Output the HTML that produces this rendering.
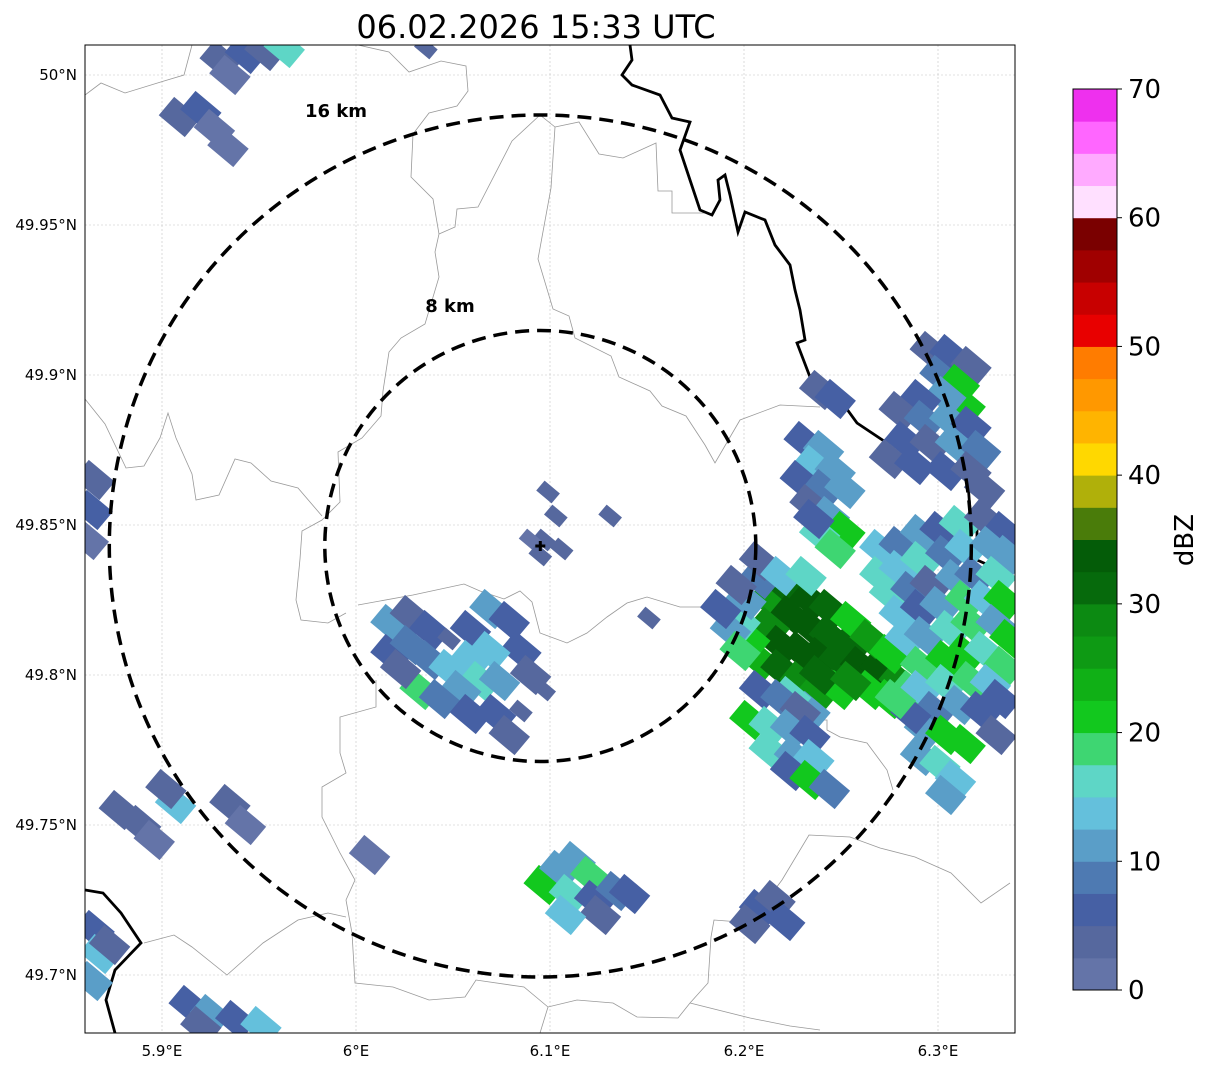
<!DOCTYPE html>
<html><head><meta charset="utf-8"><style>
body{margin:0;background:#fff;width:1207px;height:1069px;overflow:hidden}
svg{display:block}
text{font-family:"DejaVu Sans","Liberation Sans",sans-serif}
</style></head><body>
<svg id="chart" width="1207" height="1069" viewBox="0 0 1207 1069" xmlns="http://www.w3.org/2000/svg">
<defs><clipPath id="mapclip"><rect x="85" y="45" width="930" height="988"/></clipPath></defs>
<text x="536" y="38" font-size="32" text-anchor="middle">06.02.2026 15:33 UTC</text>
<g id="grid"></g>
<g id="borders" clip-path="url(#mapclip)" fill="none"></g>
<g id="cells" clip-path="url(#mapclip)"></g>
<g id="rings" clip-path="url(#mapclip)"></g>
<rect x="85" y="45" width="930" height="988" fill="none" stroke="#000" stroke-width="1"/>
<g id="axes"></g>
<g id="cbar"></g>
</svg>
<script>
const NS='http://www.w3.org/2000/svg';
const latTicks=[50,49.95,49.9,49.85,49.8,49.75,49.7];
const latLabels=['50°N','49.95°N','49.9°N','49.85°N','49.8°N','49.75°N','49.7°N'];
const lonTicks=[5.9,6.0,6.1,6.2,6.3];
const lonLabels=['5.9°E','6°E','6.1°E','6.2°E','6.3°E'];
const radarPos=[6.095,49.843];
const ringKm=[8,16];
const ringLabels=['8 km','16 km'];
const cbTicks=[0,10,20,30,40,50,60,70];
const cbColors=['#6474a8','#56689e','#4660a4','#4e7ab2','#5a9ec8','#64c0dc','#5ed6c6','#3ed672','#12c81e','#10b016','#0e9a14','#0c8a12','#066a0c','#045c08','#4a7c0a','#b0b00a','#ffd800','#ffb400','#ff9800','#ff7c00','#e80000','#c80000','#a00000','#7a0000','#ffe0ff','#ffaaff','#ff66ff','#ee30ee'];
const clusterCore=[[6.213,49.825,27],[6.224,49.828,32],[6.234,49.825,33],[6.244,49.822,30],[6.224,49.820,34],[6.234,49.816,34],[6.244,49.813,32],[6.255,49.810,30],[6.213,49.816,28],[6.219,49.810,33],[6.229,49.808,34],[6.239,49.806,33],[6.249,49.805,30],[6.260,49.803,33],[6.270,49.802,34],[6.280,49.798,28],[6.208,49.805,24],[6.219,49.802,30],[6.229,49.798,28],[6.239,49.795,25],[6.203,49.812,22],[6.198,49.818,15],[6.193,49.815,10],[6.208,49.832,8],[6.201,49.825,12],[6.255,49.818,22],[6.265,49.812,26],[6.275,49.807,22],[6.265,49.795,22],[6.275,49.792,20],[6.286,49.795,18],[6.234,49.788,12],[6.249,49.795,20],[6.188,49.822,5],[6.196,49.830,3],[6.208,49.838,4],[6.219,49.833,14],[6.232,49.833,16],[6.198,49.808,18],[6.239,49.800,31],[6.224,49.793,16],[6.255,49.798,29]];
const clusterEast=[[6.270,49.842,14],[6.280,49.843,8],[6.291,49.847,12],[6.301,49.848,5],[6.311,49.850,15],[6.324,49.852,4],[6.334,49.848,6],[6.270,49.833,16],[6.280,49.835,13],[6.291,49.838,16],[6.304,49.840,8],[6.314,49.842,14],[6.327,49.843,10],[6.336,49.840,12],[6.275,49.827,15],[6.286,49.828,9],[6.296,49.830,4],[6.309,49.832,12],[6.319,49.833,8],[6.330,49.833,16],[6.280,49.820,14],[6.291,49.822,6],[6.301,49.823,10],[6.314,49.825,18],[6.324,49.825,14],[6.334,49.825,20],[6.283,49.812,13],[6.293,49.813,12],[6.306,49.815,15],[6.317,49.817,18],[6.330,49.817,12],[6.337,49.812,22],[6.291,49.803,18],[6.304,49.805,20],[6.314,49.807,22],[6.324,49.808,16],[6.334,49.803,19],[6.291,49.795,14],[6.304,49.797,16],[6.317,49.798,18],[6.327,49.797,14],[6.298,49.788,8],[6.311,49.790,12],[6.322,49.788,5],[6.293,49.782,10],[6.304,49.780,20],[6.314,49.777,22],[6.291,49.773,12],[6.301,49.770,16],[6.309,49.765,14],[6.304,49.760,10],[6.330,49.780,4],[6.286,49.787,6],[6.332,49.792,6],[6.278,49.792,18]];
const clusterNE=[[6.296,49.908,3],[6.306,49.907,6],[6.317,49.903,4],[6.301,49.900,8],[6.311,49.897,22],[6.314,49.890,20],[6.304,49.893,10],[6.291,49.892,5],[6.280,49.888,4],[6.293,49.885,8],[6.306,49.885,12],[6.317,49.883,6],[6.283,49.878,7],[6.296,49.877,4],[6.309,49.877,10],[6.322,49.875,8],[6.275,49.872,3],[6.288,49.870,6],[6.304,49.868,5],[6.317,49.868,4],[6.324,49.862,3]];
const clusterNorth=[[6.231,49.878,6],[6.241,49.875,12],[6.236,49.870,14],[6.247,49.868,10],[6.229,49.865,5],[6.241,49.862,8],[6.252,49.862,12],[6.234,49.857,4],[6.244,49.853,10],[6.252,49.848,22],[6.239,49.847,16],[6.247,49.842,18],[6.236,49.852,6],[6.239,49.895,4],[6.247,49.892,6]];
const clusterSouthEast=[[6.208,49.795,5],[6.219,49.792,8],[6.229,49.788,4],[6.203,49.785,21],[6.213,49.783,16],[6.224,49.782,12],[6.234,49.780,6],[6.213,49.775,15],[6.226,49.773,10],[6.236,49.772,14],[6.224,49.768,6],[6.234,49.765,20],[6.244,49.762,8],[6.208,49.722,5],[6.216,49.725,3],[6.203,49.717,4],[6.221,49.718,6]];
const clusterCenter=[[6.018,49.817,12],[6.028,49.820,4],[6.038,49.815,6],[6.018,49.807,5],[6.028,49.810,8],[6.038,49.805,9],[6.048,49.812,3],[6.059,49.815,5],[6.069,49.822,10],[6.079,49.818,6],[6.085,49.808,5],[6.048,49.802,13],[6.059,49.805,14],[6.069,49.808,13],[6.064,49.798,17],[6.054,49.795,12],[6.074,49.798,10],[6.090,49.800,4],[6.097,49.795,3],[6.033,49.795,18],[6.043,49.792,9],[6.059,49.787,6],[6.072,49.787,5],[6.085,49.788,3],[6.023,49.802,4],[6.079,49.780,4],[6.099,49.861,3],[6.103,49.853,3],[6.097,49.845,3],[6.090,49.845,2],[6.106,49.842,3],[6.095,49.840,3],[6.131,49.853,3],[6.151,49.819,3]];
const clusterSouth=[[6.097,49.730,22],[6.105,49.735,12],[6.113,49.738,10],[6.121,49.733,18],[6.110,49.727,16],[6.123,49.725,6],[6.134,49.728,8],[6.141,49.727,5],[6.126,49.720,4],[6.108,49.720,13]];
const clusterWest=[[5.930,50.005,3],[5.943,50.007,6],[5.953,50.008,4],[5.935,50.000,2],[5.963,50.009,17],[5.909,49.986,3],[5.920,49.988,5],[5.927,49.982,2],[5.934,49.976,2],[6.036,50.009,3],[5.865,49.865,3],[5.864,49.855,5],[5.862,49.845,2],[5.878,49.755,3],[5.889,49.750,4],[5.896,49.745,2],[5.907,49.757,13],[5.902,49.762,4],[5.935,49.757,3],[5.943,49.750,2],[6.007,49.740,2],[5.865,49.715,6],[5.868,49.707,14],[5.864,49.698,10],[5.873,49.710,4],[5.914,49.690,5],[5.925,49.687,12],[5.938,49.685,7],[5.951,49.683,14],[5.920,49.683,3]];

function X(lon){return 162+(lon-5.9)*1940;}
function Y(lat){return 75+(50-lat)*3000;}
function colorFor(d){let i=Math.floor(d/2.5);if(i<0)i=0;if(i>=cbColors.length)i=cbColors.length-1;return cbColors[i];}
function mk(tag,attrs,parent){const e=document.createElementNS(NS,tag);for(const k in attrs)e.setAttribute(k,attrs[k]);parent.appendChild(e);return e;}

const grid=document.getElementById('grid'),axes=document.getElementById('axes');
latTicks.forEach((v,i)=>{
  const y=Y(v);
  const l=mk('line',{x1:85,x2:1015,y1:y,y2:y,stroke:'#c4c4c4','stroke-width':0.6,'stroke-dasharray':'2,2'},grid);
  
  
  const t=mk('text',{x:77,y:y+5,'font-size':15,'text-anchor':'end'},axes);t.textContent=latLabels[i];
  
  
});
lonTicks.forEach((v,i)=>{
  const x=X(v);
  const l=mk('line',{x1:x,x2:x,y1:45,y2:1033,stroke:'#c4c4c4','stroke-width':0.6,'stroke-dasharray':'2,2'},grid);
  
  
  const t=mk('text',{x:x,y:1056,'font-size':15,'text-anchor':'middle'},axes);t.textContent=lonLabels[i];
  
  
});

const borders=document.getElementById('borders');
const grayLines=[
"85,95 101,83 125,93 164,81 184,75 192,45",
"358,45 389,52 409,72 441,61 466,66 468,91 457,106 429,113 413,134 411,177 433,199 439,234 435,252 439,277 425,324 401,338 389,352 383,391 381,416 362,438 338,452 340,502 322,520 302,531 300,559 296,600 301,620 328,623 346,613",
"439,234 455,227 457,209 478,207 512,141 540,115 555,127 551,188 538,259 553,309 569,316 575,338 611,356 619,377 650,391 662,406 686,416 705,445 715,463 740,420 780,405 820,407",
"555,127 579,122 599,154 623,158 656,143 658,191 672,191 672,213 705,213",
"85,399 105,424 126,468 144,466 160,438 168,413 176,438 192,474 196,500 219,495 235,459 251,463 271,481 298,488 322,516",
"358,605 413,595 464,584 480,591 504,599 520,591 532,602 540,633 567,643 587,633 607,617 627,603 647,597 680,607 700,607 720,603 733,630",
"376,680 376,707 340,717 340,753 346,773 322,787 322,817 340,853 355,880 346,900 352,933 355,983 393,987 429,1000 465,997 476,980 524,987 548,1007 577,1000 613,1003 637,1017 678,1018 690,1003 708,983 711,937 714,920 740,922 767,900 782,880 809,835 850,837 880,848 915,857 951,873 981,903 1010,883",
"144,943 174,935 192,947 227,975 263,943 298,920 328,913 346,917",
"818,687 818,720 827,720 827,730 840,737 867,743 887,770 893,790",
"880,547 890,537 967,543 967,570",
"548,1007 540,1033",
"690,1003 750,1018 790,1026 820,1030"
];
grayLines.forEach(p=>{const e=mk('polyline',{points:p,stroke:'#999','stroke-width':0.8},borders);
  
  });
const blackLines=[
"630,45 632,60 622,75 632,85 660,95 672,118 690,122 680,150 690,180 700,210 712,215 720,200 718,180 725,175 730,195 738,232 745,212 765,220 775,245 790,265 795,290 800,310 805,340 797,343 810,377 833,390 857,423 887,443 903,440 913,453 933,473 960,463 967,470 970,510 977,520 977,560 993,567 1010,557 1015,530",
"85,890 103,893 121,913 141,943 115,970 106,1000 115,1033"
];
blackLines.forEach(p=>{const e=mk('polyline',{points:p,stroke:'#000','stroke-width':2.8},borders);
  
  });

const cellsG=document.getElementById('cells');
[clusterCore,clusterEast,clusterNE,clusterNorth,clusterSouthEast,clusterCenter,clusterSouth,clusterWest].forEach(cl=>{
  cl.forEach(c=>{
    const x=X(c[0]),y=Y(c[1]);
    const small=c[2]<=3&&Math.abs(c[0]-radarPos[0])<0.07;
    const w=small?20:34,h=small?13:24;
    const r=mk('rect',{x:x-w/2,y:y-h/2,width:w,height:h,fill:colorFor(c[2]),transform:'rotate(40 '+x+' '+y+')'},cellsG);
    
    
  });
});

const rings=document.getElementById('rings');
const cx=X(radarPos[0]),cy=Y(radarPos[1]);
const kmPx=431/16;
ringKm.forEach((k,i)=>{
  const c=mk('circle',{cx:cx,cy:cy,r:k*kmPx,fill:'none',stroke:'#000','stroke-width':3.5,'stroke-dasharray':'14,8'},rings);
  
  
});
const lblPos=[[450,312],[336,117]];
ringLabels.forEach((s,i)=>{const t=mk('text',{x:lblPos[i][0],y:lblPos[i][1],'font-size':18,'font-weight':'bold','text-anchor':'middle'},rings);t.textContent=s;
  
  });
const mark=mk('path',{d:'M'+(cx-5)+' '+cy+'h10M'+cx+' '+(cy-5)+'v10',stroke:'#000','stroke-width':3},rings);



const cb=document.getElementById('cbar');
const cbTop=89,cbBot=990,cbX=1073,cbW=44;
const per=(cbBot-cbTop)/cbColors.length;
cbColors.forEach((col,i)=>{const r=mk('rect',{x:cbX,y:cbBot-(i+1)*per,width:cbW,height:per+0.5,fill:col},cb);
  
  });
mk('rect',{x:cbX,y:cbTop,width:cbW,height:cbBot-cbTop,fill:'none',stroke:'#000','stroke-width':1},cb);
cbTicks.forEach(v=>{const y=cbBot-v/70*(cbBot-cbTop);
  mk('line',{x1:cbX+cbW,x2:cbX+cbW+5,y1:y,y2:y,stroke:'#000'},cb);
  const t=mk('text',{x:cbX+cbW+11,y:y+9,'font-size':26},cb);t.textContent=v;
  
  });
const u=mk('text',{x:1193,y:540,'font-size':26,'text-anchor':'middle',transform:'rotate(-90 1193 540)'},cb);u.textContent='dBZ';


</script>
</body></html>
